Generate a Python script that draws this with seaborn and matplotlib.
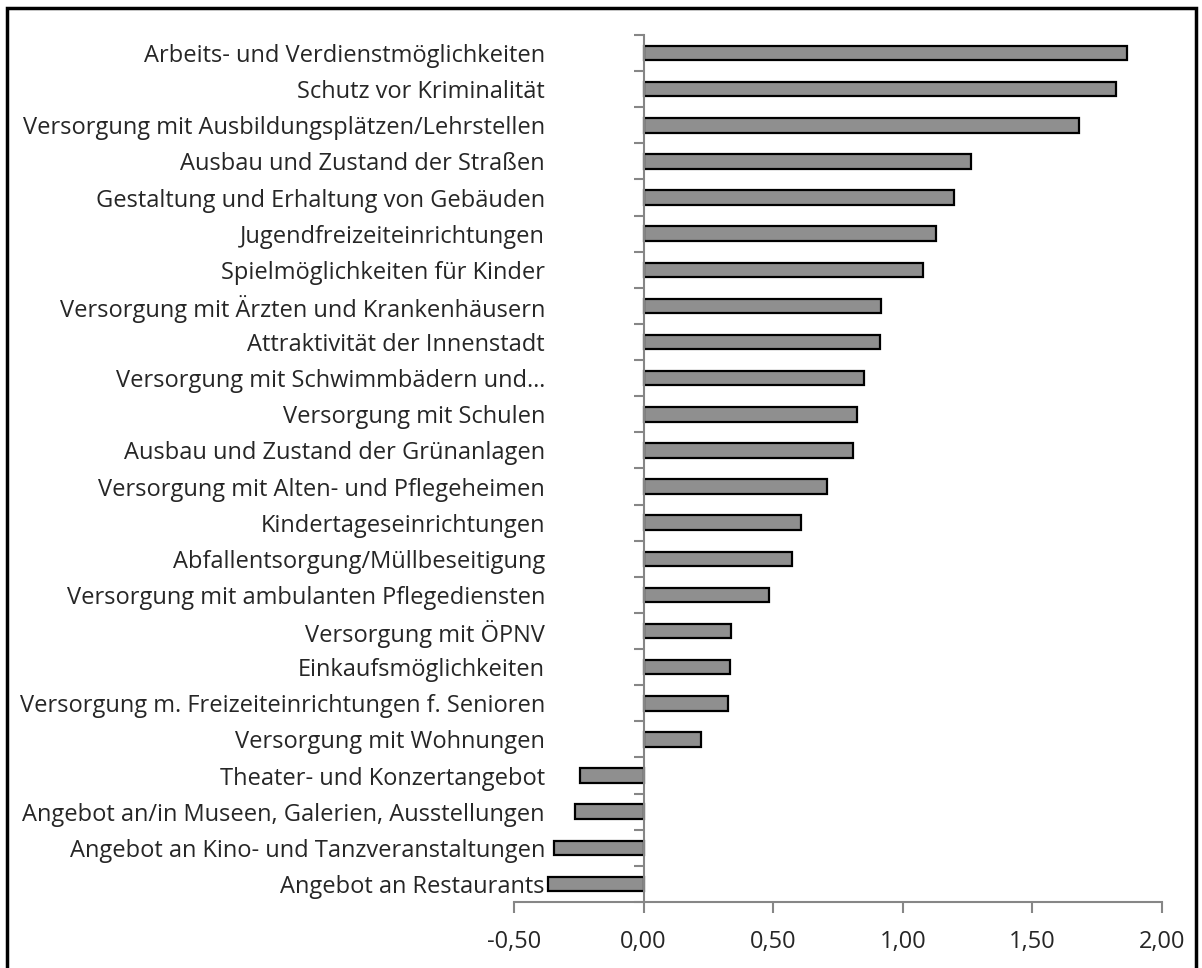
import numpy as np
import pandas as pd
import matplotlib.pyplot as plt
import seaborn as sns
from matplotlib.patches import Rectangle
from matplotlib.ticker import FixedLocator

# Bewertung der Handlungsfelder (Mittelwerte)
kategorien = [
    "Arbeits- und Verdienstmöglichkeiten",
    "Schutz vor Kriminalität",
    "Versorgung mit Ausbildungsplätzen/Lehrstellen",
    "Ausbau und Zustand der Straßen",
    "Gestaltung und Erhaltung von Gebäuden",
    "Jugendfreizeiteinrichtungen",
    "Spielmöglichkeiten für Kinder",
    "Versorgung mit Ärzten und Krankenhäusern",
    "Attraktivität der Innenstadt",
    "Versorgung mit Schwimmbädern und…",
    "Versorgung mit Schulen",
    "Ausbau und Zustand der Grünanlagen",
    "Versorgung mit Alten- und Pflegeheimen",
    "Kindertageseinrichtungen",
    "Abfallentsorgung/Müllbeseitigung",
    "Versorgung mit ambulanten Pflegediensten",
    "Versorgung mit ÖPNV",
    "Einkaufsmöglichkeiten",
    "Versorgung m. Freizeiteinrichtungen f. Senioren",
    "Versorgung mit Wohnungen",
    "Theater- und Konzertangebot",
    "Angebot an/in Museen, Galerien, Ausstellungen",
    "Angebot an Kino- und Tanzveranstaltungen",
    "Angebot an Restaurants",
]
werte = [1.866, 1.822, 1.679, 1.264, 1.198, 1.127, 1.079, 0.916, 0.911, 0.852,
         0.825, 0.807, 0.707, 0.608, 0.572, 0.483, 0.337, 0.334, 0.326, 0.222,
         -0.247, -0.264, -0.347, -0.367]
x_ticks = [-0.5, 0.0, 0.5, 1.0, 1.5, 2.0]

df = pd.DataFrame({"Kategorie": kategorien, "Wert": werte})

sns.set_style("ticks")
plt.rcParams['font.family'] = ['Open Sans', 'DejaVu Sans']

achsengrau = '#868686'

fig = plt.figure(figsize=(12.02, 9.68), dpi=100)
ax = fig.add_axes([514 / 1202, 1 - 902 / 968, (1162 - 514) / 1202, (902 - 35) / 968])

sns.barplot(data=df, x="Wert", y="Kategorie", orient='h', color='#8f8f8f',
            saturation=1, edgecolor='black', linewidth=1.6, width=0.4, ax=ax)

ax.set_xlim(-0.5, 2.0)
ax.set_ylim(len(kategorien) - 0.5, -0.5)
ax.set_xlabel('')
ax.set_ylabel('')

# Achsenlinien im Excel-Stil
for s in ['top', 'right']:
    ax.spines[s].set_visible(False)
ax.spines['left'].set_position(('data', 0))
ax.spines['left'].set_color(achsengrau)
ax.spines['left'].set_linewidth(1.5)
ax.spines['bottom'].set_color(achsengrau)
ax.spines['bottom'].set_linewidth(1.5)

ax.set_xticks(x_ticks)
ax.set_xticklabels([f"{v:.2f}".replace('.', ',') for v in x_ticks])
ax.tick_params(axis='x', direction='out', length=8, width=1.5, color=achsengrau,
               pad=12, labelsize=17)

ax.yaxis.set_minor_locator(FixedLocator(np.arange(-0.5, len(kategorien), 1)))
ax.tick_params(axis='y', which='minor', direction='out', length=7, width=1.5, color=achsengrau)
ax.tick_params(axis='y', which='major', length=0, pad=71, labelsize=17)

# Rahmen um die Grafik
fig.patches.append(Rectangle((7 / 1202, -0.02), (1196 - 7) / 1202, 1 - 8 / 968 + 0.02,
                             transform=fig.transFigure, fill=False,
                             edgecolor='black', linewidth=2.5))
# abgeschnittene Titelzeile oben
fig.text(187 / 1202, 1.009, "(", fontsize=15, va='center', ha='center')
fig.text(515 / 1202, 1.009, ")", fontsize=15, va='center', ha='center')

plt.savefig('out.png', dpi=100)
plt.close()
